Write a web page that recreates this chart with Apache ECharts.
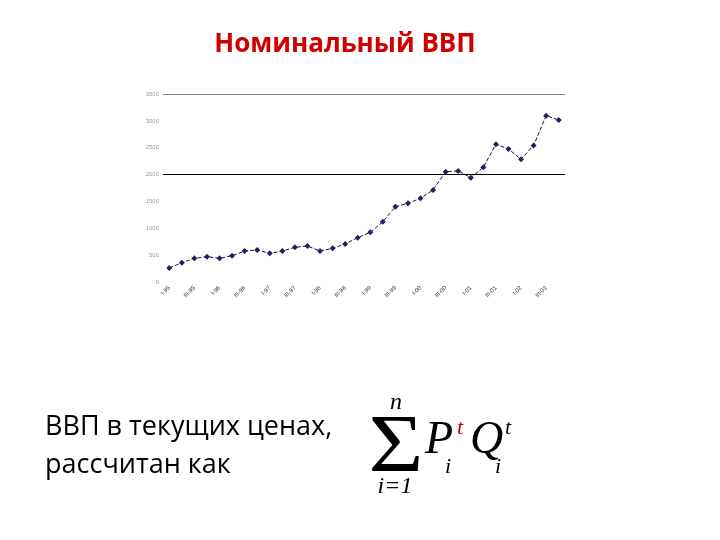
<!DOCTYPE html>
<html>
<head>
<meta charset="utf-8">
<script src="https://cdn.jsdelivr.net/npm/echarts@6/dist/echarts.min.js"></script>
<style>
html, body { margin: 0; padding: 0; background: #fff; }
#chart { width: 720px; height: 540px; }
</style>
</head>
<body>
<div id="chart"></div>
<script>
// кварталы 1995-2002
var years = ['95', '96', '97', '98', '99', '00', '01', '02'];
var quarters = ['I', 'II', 'III', 'IV'];
var categories = [];
years.forEach(function (y) {
	quarters.forEach(function (q) { categories.push(q + '-' + y); });
});

// номинальный ВВП
var gdp = [
	261, 360, 441, 472, 441, 490, 577, 596,
	534, 577, 646, 670, 577, 627, 708, 825,
	925, 1123, 1402, 1465, 1558, 1713, 2054, 2067,
	1942, 2136, 2564, 2477, 2285, 2542, 3097, 3017
];

var yTicks = [0, 3500, 500];   // min, max, шаг
var refLines = [3500, 2000];

var myChart = echarts.init(document.getElementById('chart'));

var option = {
	animation: false,
	backgroundColor: '#fff',
	title: {
		text: 'Номинальный ВВП',
		left: 340,
		top: 27,
		textAlign: 'center',
		textStyle: { color: '#d00000', fontSize: 26, fontWeight: 'bold', fontFamily: 'Open Sans' }
	},
	grid: { left: 163, right: 155, top: 94, bottom: 258 },
	xAxis: {
		type: 'category',
		data: categories,
		boundaryGap: true,
		axisLine: { show: false },
		axisTick: { show: false },
		axisLabel: { interval: 1, rotate: 45, fontSize: 6, color: '#333', margin: 5, fontFamily: 'Liberation Sans' }
	},
	yAxis: {
		type: 'value',
		min: yTicks[0],
		max: yTicks[1],
		interval: yTicks[2],
		splitLine: { show: false },
		axisLine: { show: false },
		axisTick: { show: false },
		axisLabel: {
			fontSize: 6, color: '#999', margin: 4, fontFamily: 'Liberation Sans',
			formatter: function (v) { return String(v); }
		}
	},
	series: [{
		type: 'line',
		data: gdp,
		symbol: 'diamond',
		symbolSize: 6,
		itemStyle: { color: '#1f1f6b' },
		lineStyle: { color: '#15153a', width: 1, type: [4, 2] },
		markLine: {
			silent: true,
			symbol: 'none',
			label: { show: false },
			data: [
				{ yAxis: refLines[0], lineStyle: { color: '#888', width: 1, type: 'solid' } },
				{ yAxis: refLines[1], lineStyle: { color: '#000', width: 1.2, type: 'solid' } }
			]
		}
	}],
	graphic: [
		{
			type: 'text', left: 45, top: 414,
			style: {
				text: '{k|ВВП в }{r|текущих}{k| ценах,}\n{k|рассчитан как}',
				rich: {
					k: { fontSize: 27, color: '#000', fontFamily: 'Open Sans', lineHeight: 38 },
					r: { fontSize: 27, color: '#d00000', fontFamily: 'Open Sans', lineHeight: 38 }
				}
			}
		},
		// формула суммы
		{ type: 'text', x: 396, y: 403, style: { text: 'n', font: 'italic 24px "Liberation Serif"', fill: '#000', align: 'center', verticalAlign: 'middle' } },
		{ type: 'text', x: 396, y: 449, scaleX: 1.15, originX: 0, originY: 0, style: { text: 'Σ', font: '82px "Liberation Serif"', fill: '#000', align: 'center', verticalAlign: 'middle' } },
		{ type: 'text', x: 395, y: 487, style: { text: 'i=1', font: 'italic 24px "Liberation Serif"', fill: '#000', align: 'center', verticalAlign: 'middle' } },
		{ type: 'text', x: 425, y: 441, style: { text: 'P', font: 'italic 46px "Liberation Serif"', fill: '#000', verticalAlign: 'middle' } },
		{ type: 'text', x: 445, y: 467, style: { text: 'i', font: 'italic 22px "Liberation Serif"', fill: '#000', verticalAlign: 'middle' } },
		{ type: 'text', x: 457, y: 428, style: { text: 't', font: 'italic 22px "Liberation Serif"', fill: '#d00000', verticalAlign: 'middle' } },
		{ type: 'text', x: 470, y: 441, style: { text: 'Q', font: 'italic 46px "Liberation Serif"', fill: '#000', verticalAlign: 'middle' } },
		{ type: 'text', x: 495, y: 467, style: { text: 'i', font: 'italic 22px "Liberation Serif"', fill: '#000', verticalAlign: 'middle' } },
		{ type: 'text', x: 505, y: 428, style: { text: 't', font: 'italic 22px "Liberation Serif"', fill: '#000', verticalAlign: 'middle' } }
	]
};

myChart.setOption(option);
</script>
</body>
</html>
